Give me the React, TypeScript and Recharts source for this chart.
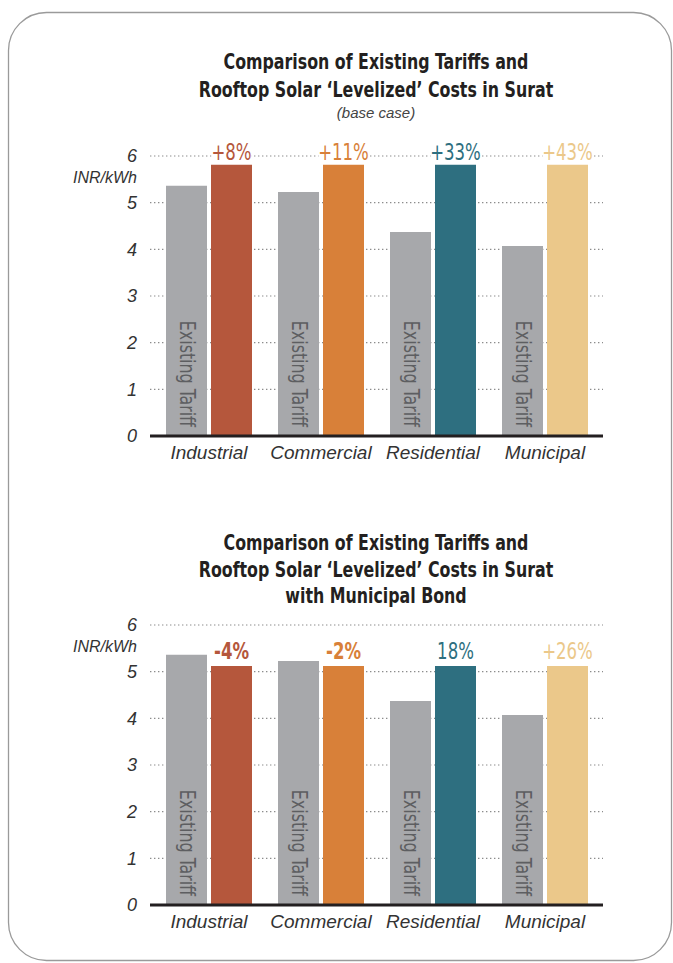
import React from 'react';
import { BarChart, Bar, XAxis, YAxis, CartesianGrid, Cell, LabelList } from 'recharts';

const categories = ['Industrial', 'Commercial', 'Residential', 'Municipal'];
const existingTariff = [5.36, 5.23, 4.37, 4.07];
const solarBaseCase = [5.81, 5.81, 5.81, 5.81];
const solarWithBond = [5.12, 5.12, 5.12, 5.12];
const pctBaseCase = ['+8%', '+11%', '+33%', '+43%'];
const pctWithBond = ['-4%', '-2%', '18%', '+26%'];
const solarColors = ['#b5573c', '#d88039', '#2e6f80', '#ebc88a'];
const yTicks = [0, 1, 2, 3, 4, 5, 6];
const tariffLabel = 'Existing Tariff';
const unitLabel = 'INR/kWh';
const titleTop = ['Comparison of Existing Tariffs and', 'Rooftop Solar \u2018Levelized\u2019 Costs in Surat'];
const subtitleTop = '(base case)';
const titleBottom = ['Comparison of Existing Tariffs and', 'Rooftop Solar \u2018Levelized\u2019 Costs in Surat', 'with Municipal Bond'];

const NARROW = "'Liberation Sans Narrow', 'DejaVu Sans Condensed', 'Liberation Sans', sans-serif";
const SANS = "'Liberation Sans', Arial, sans-serif";

function TariffLabel(props: any) {
  const { x, y, width, height } = props;
  const cx = Number(x) + Number(width) / 2 - 7;
  const by = Number(y) + Number(height) - 9;
  return (
    <text
      transform={`translate(${cx} ${by}) rotate(90) scale(0.84 1)`}
      x={0}
      y={0}
      textAnchor="end"
      fill="#5d5e61"
      fontSize={21}
      fontFamily={NARROW}
    >
      {tariffLabel}
    </text>
  );
}

function makeSolarLabel(offset: number) {
  return function SolarLabel(props: any) {
    const { x, y, width, value, index } = props;
    const cx = Number(x) + Number(width) / 2;
    const v = String(value);
    const bold = v.startsWith('-');
    const w = v.length * 10 + 10;
    const by = Number(y) - offset;
    return (
      <g>
        <rect x={cx - w / 2} y={by - 20} width={w} height={20} fill="#ffffff" />
        <text
          transform={`translate(${cx} ${by}) scale(0.8 1)`}
          x={0}
          y={0}
          textAnchor="middle"
          fill={solarColors[index]}
          fontSize={23}
          fontWeight={bold ? 700 : 400}
          fontFamily={NARROW}
        >
          {v}
        </text>
      </g>
    );
  };
}

function TariffChart({ solar, pct, offset }: { solar: number[]; pct: string[]; offset: number }) {
  const data = categories.map((c, i) => ({
    category: c,
    tariff: existingTariff[i],
    solar: solar[i],
    pct: pct[i],
  }));
  const SolarLabel = makeSolarLabel(offset);
  return (
    <BarChart
      width={673}
      height={360}
      data={data}
      margin={{ top: 36, right: 70, bottom: 4, left: 90 }}
      barSize={41}
      barGap={4}
    >
      <CartesianGrid vertical={false} stroke="#8c8c8c" strokeDasharray="1.4 2.6" strokeWidth={1.2} />
      <XAxis
        dataKey="category"
        height={40}
        padding={{ left: 3, right: 2 }}
        tickLine={false}
        tickSize={0}
        tickMargin={10}
        interval={0}
        axisLine={{ stroke: '#231f20', strokeWidth: 3 }}
        tick={{ fill: '#333333', fontSize: 19, fontStyle: 'italic', fontFamily: SANS }}
      />
      <YAxis
        domain={[0, 6]}
        ticks={yTicks}
        interval={0}
        width={60}
        axisLine={false}
        tickLine={false}
        tickSize={0}
        tickMargin={13}
        tick={{ fill: '#333333', fontSize: 18, fontStyle: 'italic', fontFamily: SANS }}
      />
      <Bar dataKey="tariff" fill="#a7a8ab" isAnimationActive={false}>
        <LabelList dataKey="tariff" content={<TariffLabel />} />
      </Bar>
      <Bar dataKey="solar" isAnimationActive={false}>
        {data.map((d, i) => (
          <Cell key={d.category} fill={solarColors[i]} />
        ))}
        <LabelList dataKey="pct" content={(p: any) => <SolarLabel {...p} />} />
      </Bar>
    </BarChart>
  );
}

function Title({ y, text }: { y: number; text: string }) {
  return (
    <text
      transform={`translate(376 ${y}) scale(0.8 1)`}
      x={0}
      y={0}
      textAnchor="middle"
      fontFamily={NARROW}
      fontWeight={700}
      fontSize={22}
      fill="#231f20"
    >
      {text}
    </text>
  );
}

export default function App() {
  return (
    <div style={{ position: 'absolute', left: 0, top: 0, width: 673, height: 963, overflow: 'hidden', background: '#fff' }}>
      <svg width={673} height={963} style={{ position: 'absolute', left: 0, top: 0 }}>
        <rect x={8.5} y={12.5} width={663} height={948} rx={38} ry={38} fill="#ffffff" stroke="#9a9a9a" strokeWidth={1.3} />
        <Title y={69} text={titleTop[0]} />
        <Title y={97} text={titleTop[1]} />
        <text x={376} y={118} textAnchor="middle" fontFamily={SANS} fontStyle="italic" fontSize={15} fill="#444">{subtitleTop}</text>
        <Title y={550} text={titleBottom[0]} />
        <Title y={577} text={titleBottom[1]} />
        <Title y={603} text={titleBottom[2]} />
        <text x={137} y={183} textAnchor="end" fontFamily={SANS} fontStyle="italic" fontSize={16} fill="#333">{unitLabel}</text>
        <text x={137} y={652} textAnchor="end" fontFamily={SANS} fontStyle="italic" fontSize={16} fill="#333">{unitLabel}</text>
      </svg>
      <div style={{ position: 'absolute', left: 0, top: 120 }}>
        <TariffChart solar={solarBaseCase} pct={pctBaseCase} offset={5} />
      </div>
      <div style={{ position: 'absolute', left: 0, top: 589 }}>
        <TariffChart solar={solarWithBond} pct={pctWithBond} offset={7} />
      </div>
    </div>
  );
}
